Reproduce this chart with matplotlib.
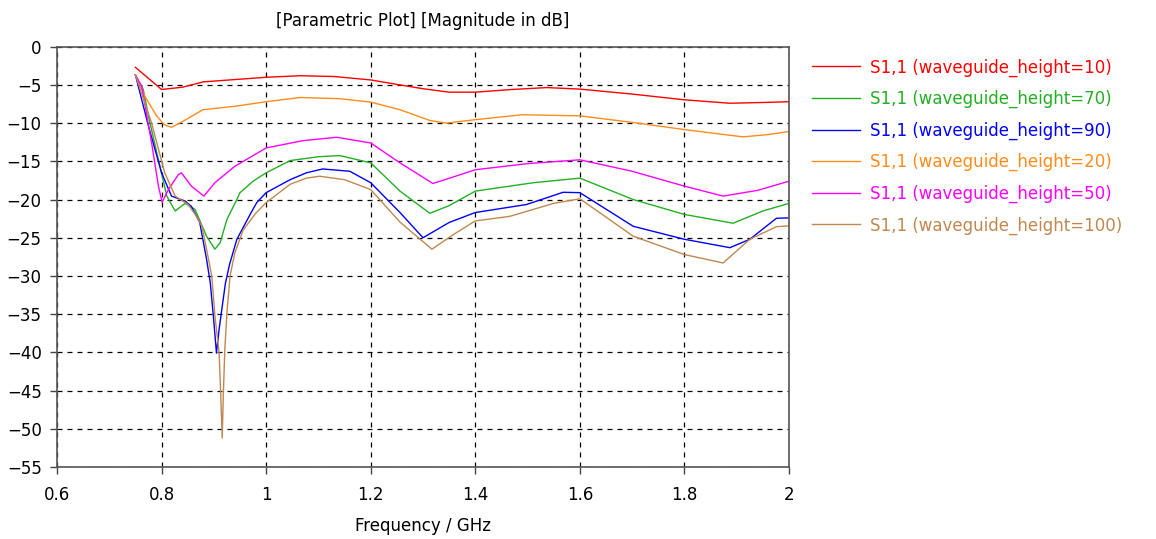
import numpy as np
import matplotlib
matplotlib.use("Agg")
import matplotlib.pyplot as plt
from matplotlib.ticker import FuncFormatter

# S11 curves, frequency in GHz, magnitude in dB
f_h10 = [0.75, 0.80, 0.84, 0.88, 0.94, 1.0, 1.065, 1.13, 1.2, 1.256, 1.30, 1.35, 1.4, 1.47, 1.537, 1.6, 1.7, 1.8, 1.887, 1.95, 2.0]
s_h10 = [-2.7, -5.6, -5.3, -4.6, -4.3, -4.0, -3.8, -3.9, -4.35, -5.0, -5.5, -5.95, -5.95, -5.6, -5.35, -5.55, -6.2, -6.95, -7.4, -7.3, -7.2]

f_h20 = [0.75, 0.768, 0.79, 0.805, 0.819, 0.84, 0.879, 0.94, 1.0, 1.065, 1.14, 1.2, 1.256, 1.313, 1.345, 1.4, 1.49, 1.6, 1.7, 1.8, 1.912, 1.96, 2.0]
s_h20 = [-3.7, -6.5, -9.0, -10.2, -10.55, -9.8, -8.25, -7.8, -7.2, -6.65, -6.8, -7.25, -8.25, -9.65, -10.0, -9.55, -8.9, -9.05, -9.9, -10.85, -11.8, -11.5, -11.1]

f_h50 = [0.75, 0.762, 0.781, 0.794, 0.801, 0.813, 0.832, 0.838, 0.857, 0.881, 0.902, 0.94, 1.0, 1.07, 1.135, 1.2, 1.256, 1.319, 1.36, 1.4, 1.5, 1.6, 1.7, 1.8, 1.874, 1.94, 2.0]
s_h50 = [-3.7, -5.2, -12.6, -18.25, -20.35, -18.7, -16.75, -16.5, -18.25, -19.55, -17.8, -15.65, -13.25, -12.3, -11.85, -12.6, -15.2, -17.9, -17.0, -16.1, -15.3, -14.8, -16.3, -18.25, -19.55, -18.8, -17.6]

f_h70 = [0.75, 0.765, 0.775, 0.794, 0.81, 0.826, 0.845, 0.864, 0.886, 0.902, 0.912, 0.925, 0.944, 0.95, 0.975, 1.0, 1.046, 1.1, 1.141, 1.2, 1.256, 1.313, 1.35, 1.4, 1.511, 1.6, 1.702, 1.8, 1.893, 1.95, 2.0]
s_h70 = [-3.7, -5.6, -9.1, -14.8, -19.55, -21.5, -20.5, -21.3, -24.8, -26.5, -25.65, -22.6, -20.0, -19.1, -17.6, -16.5, -14.9, -14.4, -14.25, -15.2, -18.9, -21.8, -20.8, -18.9, -17.8, -17.2, -20.0, -21.95, -23.1, -21.5, -20.5]

f_h90 = [0.75, 0.775, 0.8, 0.819, 0.845, 0.857, 0.873, 0.886, 0.893, 0.899, 0.905, 0.91, 0.915, 0.922, 0.93, 0.944, 0.969, 0.982, 1.0, 1.046, 1.077, 1.108, 1.16, 1.2, 1.256, 1.3, 1.35, 1.4, 1.498, 1.568, 1.6, 1.702, 1.8, 1.887, 1.925, 1.976, 2.0]
s_h90 = [-3.7, -10.4, -16.5, -19.55, -20.2, -20.9, -23.0, -27.8, -30.8, -35.2, -40.1, -37.0, -34.5, -31.0, -28.5, -25.2, -22.0, -20.4, -19.1, -17.4, -16.5, -16.0, -16.3, -17.8, -21.7, -25.0, -23.0, -21.7, -20.65, -19.05, -19.1, -23.5, -25.2, -26.3, -25.2, -22.45, -22.4]

f_h100 = [0.75, 0.781, 0.806, 0.826, 0.851, 0.867, 0.877, 0.886, 0.896, 0.902, 0.910, 0.913, 0.916, 0.918, 0.921, 0.925, 0.931, 0.94, 0.956, 0.98, 1.0, 1.046, 1.077, 1.102, 1.15, 1.2, 1.256, 1.317, 1.36, 1.4, 1.466, 1.55, 1.6, 1.702, 1.8, 1.874, 1.925, 1.976, 2.0]
s_h100 = [-3.7, -10.0, -16.5, -19.55, -20.65, -22.2, -23.5, -26.5, -30.0, -35.2, -40.0, -45.2, -51.2, -45.7, -39.6, -34.8, -30.0, -27.0, -24.0, -21.8, -20.4, -18.0, -17.2, -16.95, -17.4, -18.7, -22.95, -26.5, -24.5, -22.8, -22.2, -20.5, -19.9, -24.8, -27.2, -28.3, -25.2, -23.55, -23.45]

heights = [10, 70, 90, 20, 50, 100]
freqs = [f_h10, f_h70, f_h90, f_h20, f_h50, f_h100]
s11 = [s_h10, s_h70, s_h90, s_h20, s_h50, s_h100]
colors = ["#ff0000", "#22b022", "#0000ff", "#ff8c1a", "#ff00ff", "#c08850"]

fig = plt.figure(figsize=(11.56, 5.39), dpi=100)
ax = fig.add_axes([57/1156, 1-467/539, (789-57)/1156, (467-46.7)/539])

for h, f, s, c in zip(heights, freqs, s11, colors):
    ax.plot(f, s, color=c, lw=1.0, label="S1,1 (waveguide_height=%d)" % h)

ax.set_xlim(0.6, 2.0)
ax.set_ylim(-55, 0)
ax.set_xticks(np.arange(0.6, 2.01, 0.2))
ax.set_yticks(np.arange(-55, 1, 5))
ax.xaxis.set_major_formatter(FuncFormatter(lambda v, p: "%g" % round(v, 2)))
ax.grid(True, color="black", ls=(0, (4, 4)), lw=0.9)
ax.tick_params(labelsize=12, direction="out", length=5, width=1, color="#444444")
ax.tick_params(axis="x", pad=9)
ax.tick_params(axis="y", pad=6)
for sp in ax.spines.values():
    sp.set_color("#555555")
    sp.set_linewidth(1.2)

ax.set_xlabel("Frequency / GHz", fontsize=12, labelpad=9)
ax.set_title("[Parametric Plot] [Magnitude in dB]", fontsize=12, pad=15)

leg = ax.legend(loc="upper left", bbox_to_anchor=(1.008, 1.012), frameon=False,
                fontsize=12, handlelength=2.9, handletextpad=0.6, labelspacing=0.8,
                borderaxespad=0.4, borderpad=0.6)
for txt, c in zip(leg.get_texts(), colors):
    txt.set_color(c)

fig.savefig("out.png", dpi=100)
